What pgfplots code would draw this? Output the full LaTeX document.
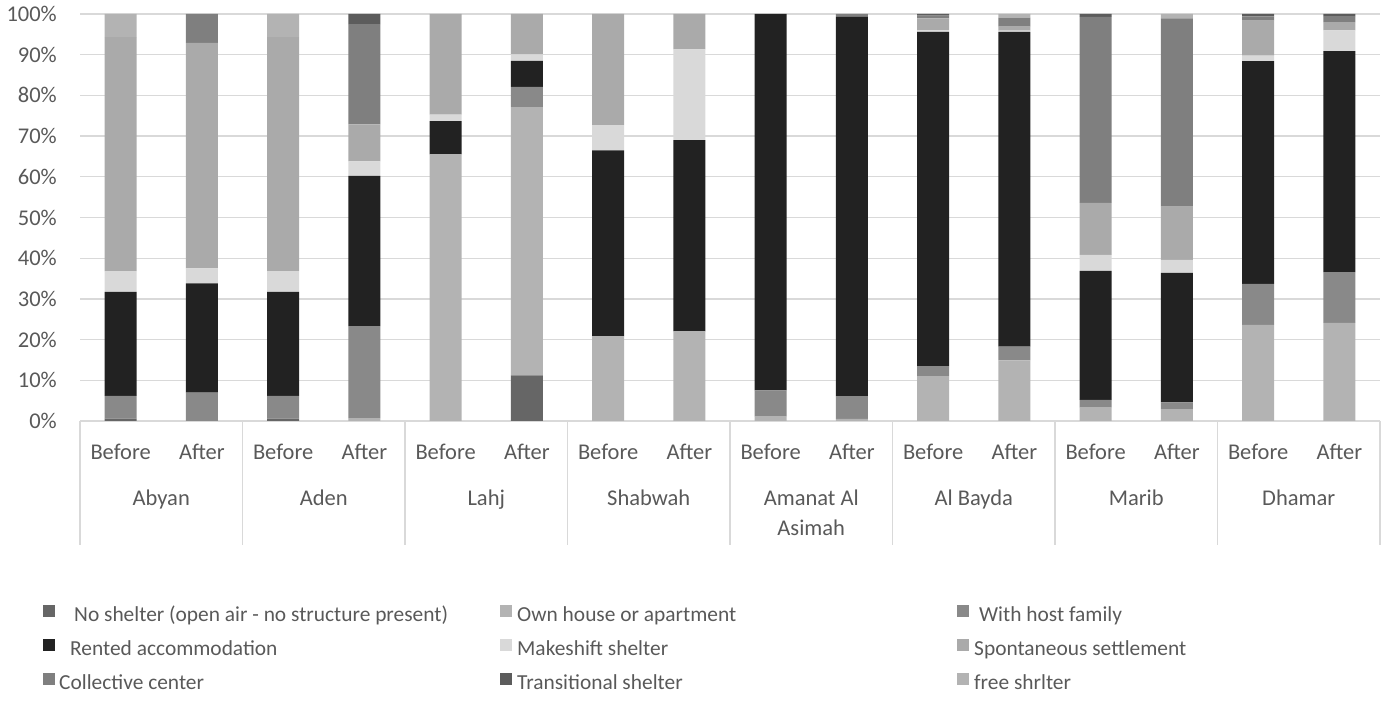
\documentclass[border=0pt]{standalone}
\usepackage{fontspec}
\setmainfont{Carlito}
\usepackage{pgfplots}
\usepackage{pgfplotstable}
\pgfplotsset{compat=1.18}
\definecolor{cNo}{HTML}{666666}
\definecolor{cOwn}{HTML}{B3B3B3}
\definecolor{cHost}{HTML}{898989}
\definecolor{cRent}{HTML}{222222}
\definecolor{cMake}{HTML}{D9D9D9}
\definecolor{cSpont}{HTML}{AAAAAA}
\definecolor{cColl}{HTML}{7F7F7F}
\definecolor{cTrans}{HTML}{5C5C5C}
\definecolor{cFree}{HTML}{B3B3B3}
\definecolor{txt}{HTML}{595959}
\definecolor{grd}{HTML}{D9D9D9}
\newcommand\fsz{\fontsize{22.5bp}{27bp}\selectfont}
\newcommand\lsz{\fontsize{21.4bp}{26bp}\selectfont}
\pgfplotsset{sq/.style={legend image code/.code={\fill[##1] (0bp,0bp) rectangle (11.5bp,11.5bp);}}}

\pgfplotstableread{
x no own host rent make spont coll trans free
0 0.6 0 5.6 25.5 5.1 57.5 0 0 5.7
1 0 0 7.0 26.8 3.7 55.4 7.1 0 0
2 0.6 0 5.6 25.5 5.1 57.5 0 0 5.7
3 0 0.7 22.6 36.9 3.6 9.1 24.6 2.5 0
4 0 65.5 0 8.2 1.6 24.7 0 0 0
5 11.2 65.9 5.0 6.4 1.6 9.9 0 0 0
6 0 20.8 0 45.7 6.2 27.3 0 0 0
7 0 22.0 0 47.0 22.3 8.7 0 0 0
8 0 1.1 6.4 92.5 0 0 0 0 0
9 0 0.5 5.6 93.2 0 0 0.7 0 0
10 0 11.0 2.5 82.1 0.4 2.9 0.7 0.4 0
11 0 14.9 3.4 77.3 0.3 1.0 2.2 0 0.9
12 0 3.3 1.9 31.7 3.9 12.8 45.7 0.7 0
13 0 2.9 1.7 31.8 3.2 13.1 46.2 0 1.1
14 0 23.6 10.1 54.7 1.4 8.6 1.0 0.6 0
15 0 24.1 12.5 54.3 5.1 2.0 1.5 0.5 0
}\data

\begin{document}
\begin{tikzpicture}
\useasboundingbox (0,0) rectangle (1383bp,702bp);
\begin{axis}[
  at={(80bp,281bp)}, anchor=south west,
  scale only axis, width=1300bp, height=407bp,
  ybar stacked, bar width=32bp,
  xmin=-0.5, xmax=15.5, ymin=0, ymax=100,
  axis line style={draw=none},
  major tick length=0pt,
  ymajorgrids, grid style={grd, line width=1.3bp},
  ytick={0,10,...,100},
  yticklabels={0\%,10\%,20\%,30\%,40\%,50\%,60\%,70\%,80\%,90\%,100\%},
  xtick={0,...,15},
  xticklabels={Before,After,Before,After,Before,After,Before,After,Before,After,Before,After,Before,After,Before,After},
  ticklabel style={font=\fsz, text=txt},
  yticklabel style={anchor=east, inner sep=0pt, xshift=-23bp},
  xticklabel style={anchor=base, inner sep=0pt, yshift=-38.5bp},
  clip=false,
  legend columns=3,
  legend cell align=left,
  legend style={at={(-0.02846,-0.4521)}, anchor=north west, draw=none, fill=none,
    inner sep=0pt, column sep=4.5bp, row sep=12.5bp, font=\lsz, text=txt,
    nodes={inner sep=0pt, text height=15bp, text depth=5bp}},
]
\addplot[fill=cNo, draw=none, sq] table[x=x,y=no]{\data};
\addlegendentry{\makebox[436.5bp][l]{\hspace{15bp}No shelter (open air - no structure present)}}
\addplot[fill=cOwn, draw=none, sq] table[x=x,y=own]{\data};
\addlegendentry{\makebox[436.5bp][l]{\hspace{1bp}Own house or apartment}}
\addplot[fill=cHost, draw=none, sq] table[x=x,y=host]{\data};
\addlegendentry{\makebox[400bp][l]{\hspace{6bp}With host family}}
\addplot[fill=cRent, draw=none, sq] table[x=x,y=rent]{\data};
\addlegendentry{\makebox[436.5bp][l]{\hspace{11bp}Rented accommodation}}
\addplot[fill=cMake, draw=none, sq] table[x=x,y=make]{\data};
\addlegendentry{\makebox[436.5bp][l]{\hspace{1bp}Makeshift shelter}}
\addplot[fill=cSpont, draw=none, sq] table[x=x,y=spont]{\data};
\addlegendentry{\makebox[400bp][l]{\hspace{1bp}Spontaneous settlement}}
\addplot[fill=cColl, draw=none, sq] table[x=x,y=coll]{\data};
\addlegendentry{\makebox[436.5bp][l]{Collective center}}
\addplot[fill=cTrans, draw=none, sq] table[x=x,y=trans]{\data};
\addlegendentry{\makebox[436.5bp][l]{\hspace{1bp}Transitional shelter}}
\addplot[fill=cFree, draw=none, sq] table[x=x,y=free]{\data};
\addlegendentry{\makebox[400bp][l]{\hspace{1bp}free shrlter}}

\draw[grd, line width=1.3bp] (axis cs:-0.5,0) -- ([yshift=-124bp]axis cs:-0.5,0);
\draw[grd, line width=1.3bp] (axis cs:1.5,0) -- ([yshift=-124bp]axis cs:1.5,0);
\draw[grd, line width=1.3bp] (axis cs:3.5,0) -- ([yshift=-124bp]axis cs:3.5,0);
\draw[grd, line width=1.3bp] (axis cs:5.5,0) -- ([yshift=-124bp]axis cs:5.5,0);
\draw[grd, line width=1.3bp] (axis cs:7.5,0) -- ([yshift=-124bp]axis cs:7.5,0);
\draw[grd, line width=1.3bp] (axis cs:9.5,0) -- ([yshift=-124bp]axis cs:9.5,0);
\draw[grd, line width=1.3bp] (axis cs:11.5,0) -- ([yshift=-124bp]axis cs:11.5,0);
\draw[grd, line width=1.3bp] (axis cs:13.5,0) -- ([yshift=-124bp]axis cs:13.5,0);
\draw[grd, line width=1.3bp] (axis cs:15.5,0) -- ([yshift=-124bp]axis cs:15.5,0);

\node[anchor=base, font=\fsz, text=txt, inner sep=0pt, yshift=-84.5bp] at (axis cs:0.5,0) {Abyan};
\node[anchor=base, font=\fsz, text=txt, inner sep=0pt, yshift=-84.5bp] at (axis cs:2.5,0) {Aden};
\node[anchor=base, font=\fsz, text=txt, inner sep=0pt, yshift=-84.5bp] at (axis cs:4.5,0) {Lahj};
\node[anchor=base, font=\fsz, text=txt, inner sep=0pt, yshift=-84.5bp] at (axis cs:6.5,0) {Shabwah};
\node[anchor=base, font=\fsz, text=txt, inner sep=0pt, yshift=-84.5bp] at (axis cs:8.5,0) {Amanat Al};
\node[anchor=base, font=\fsz, text=txt, inner sep=0pt, yshift=-114.5bp] at (axis cs:8.5,0) {Asimah};
\node[anchor=base, font=\fsz, text=txt, inner sep=0pt, yshift=-84.5bp] at (axis cs:10.5,0) {Al Bayda};
\node[anchor=base, font=\fsz, text=txt, inner sep=0pt, yshift=-84.5bp] at (axis cs:12.5,0) {Marib};
\node[anchor=base, font=\fsz, text=txt, inner sep=0pt, yshift=-84.5bp] at (axis cs:14.5,0) {Dhamar};
\end{axis}
\end{tikzpicture}
\end{document}
